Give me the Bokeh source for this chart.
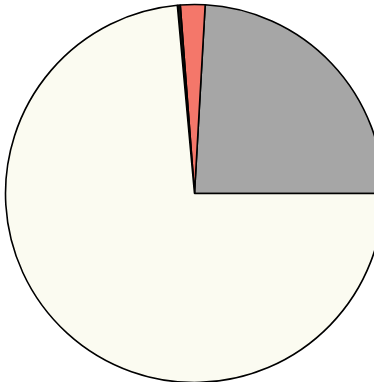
import numpy as np
from bokeh.plotting import figure
from bokeh.models import ColumnDataSource
from bokeh.embed import file_html
from bokeh.resources import INLINE

categories = ["Gray", "Red", "Black", "Pale"]
shares = [24.1, 2.1, 0.25, 73.55]
colors = ["#a6a6a6", "#f4776a", "#111111", "#fbfbf1"]

W, H = 374, 382
p = figure(width=W, height=H, x_range=(0, W), y_range=(0, H),
           output_backend="svg", toolbar_location=None, min_border=0)
p.axis.visible = False
p.grid.visible = False
p.outline_line_color = None
p.background_fill_color = "white"
p.border_fill_color = "white"

vals = np.array(shares, dtype=float)
ang = vals / vals.sum() * 2 * np.pi
end = np.cumsum(ang)
start = end - ang
src = ColumnDataSource(dict(cat=categories, start=start, end=end, color=colors))
p.wedge(x=194, y=H - 193, radius=189, start_angle="start", end_angle="end",
        direction="anticlock", fill_color="color", line_color="black",
        line_width=1.6, source=src)

open("out.html", "w").write(file_html(p, INLINE))
